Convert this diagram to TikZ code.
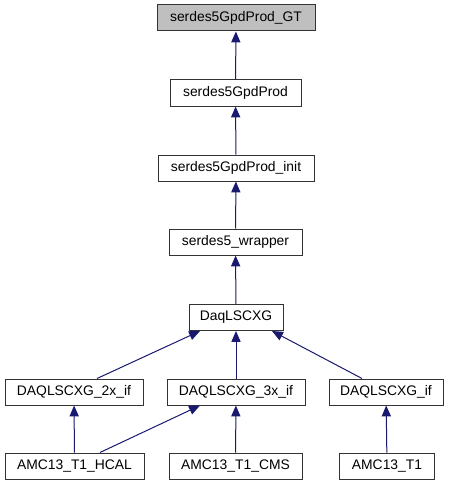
\documentclass[tikz,border=0pt]{standalone}
\usepackage{fontspec}
\setmainfont{Liberation Sans}
\usepackage{xcolor}
\usetikzlibrary{arrows.meta}
\definecolor{edgec}{HTML}{191970}
\definecolor{rootbg}{HTML}{BFBFBF}
\definecolor{boxline}{HTML}{333333}
\tikzset{
  cls/.style={draw=boxline, fill=white, line width=0.75pt, inner sep=0pt,
    minimum height=19.5pt, font=\fontsize{10.4}{12}\selectfont},
  root/.style={cls, fill=rootbg},
  inh/.style={draw=edgec, line width=0.75pt,
    -{Triangle[length=8.2pt,width=6.9pt,fill=edgec]}},
}

\begin{document}
\begin{tikzpicture}[x=0.75pt,y=-0.75pt]
  \useasboundingbox (0,0) rectangle (449,485);

  \node[root,minimum width=118.5pt] (gt) at (236,18) {serdes5GpdProd\_GT};
  \node[cls,minimum width=98.25pt] (prod) at (235.5,93) {serdes5GpdProd};
  \node[cls,minimum width=117pt] (init) at (236,168) {serdes5GpdProd\_init};
  \node[cls,minimum width=99.75pt] (wrap) at (235.5,242) {serdes5\_wrapper};
  \node[cls,minimum width=70.5pt] (daq) at (236,317.5) {DaqLSCXG};

  \node[cls,minimum width=103.5pt] (x2) at (74,392) {DAQLSCXG\_2x\_if};
  \node[cls,minimum width=103.5pt] (x3) at (236,392) {DAQLSCXG\_3x\_if};
  \node[cls,minimum width=85.5pt] (xif) at (386,392) {DAQLSCXG\_if};

  \node[cls,minimum width=104.25pt] (hcal) at (74.5,466) {AMC13\_T1\_HCAL};
  \node[cls,minimum width=99.75pt] (cms) at (235.5,466) {AMC13\_T1\_CMS};
  \node[cls,minimum width=71.25pt] (t1) at (387,466) {AMC13\_T1};

  \draw[inh] (prod) -- (gt);
  \draw[inh] (init) -- (prod);
  \draw[inh] (wrap) -- (init);
  \draw[inh] (daq) -- (wrap);

  \draw[inh] ([xshift=17.25pt]x2.north) -- ([xshift=-27pt]daq.south);
  \draw[inh] (x3) -- (daq);
  \draw[inh] ([xshift=-18pt]xif.north) -- ([xshift=27pt]daq.south);

  \draw[inh] (hcal) -- (x2);
  \draw[inh] ([xshift=19.1pt]hcal.north) -- ([xshift=-27pt]x3.south);
  \draw[inh] (cms) -- (x3);
  \draw[inh] (t1) -- (xif);
\end{tikzpicture}
\end{document}
